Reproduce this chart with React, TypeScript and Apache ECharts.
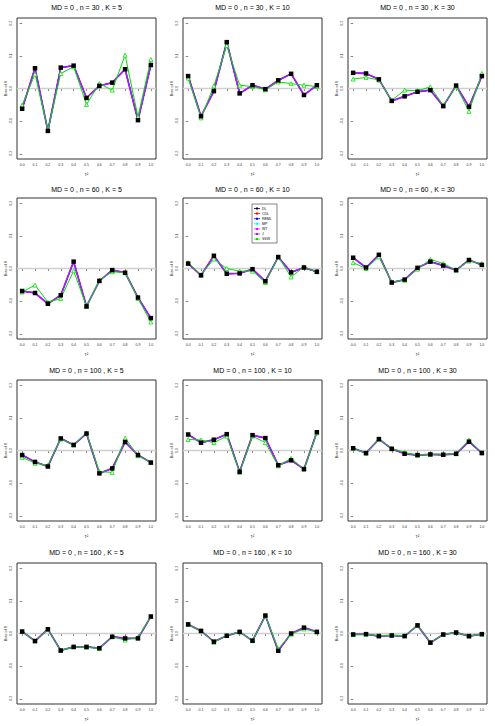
import React, { useEffect, useRef } from "react";
import * as echarts from "echarts";

const TAU = [0, 0.1, 0.2, 0.3, 0.4, 0.5, 0.6, 0.7, 0.8, 0.9, 1.0];
const Y_TICKS = [-0.2, -0.1, 0, 0.1, 0.2];
const METHODS = ["DL", "CDL", "REML", "MP", "WT", "J", "SSW"];
const COLORS = ["#000000", "#FF0000", "#0000FF", "#00FFFF", "#FF00FF", "#A020F0", "#00E000"];
const ZERO_LINE = [[-0.04, 0], [1.04, 0]];

// n = 30
const N30_K5 = [-0.062, 0.062, -0.13, 0.064, 0.07, -0.029, 0.008, 0.018, 0.059, -0.097, 0.072];
const N30_K5_SSW = [-0.051, 0.044, -0.128, 0.046, 0.067, -0.049, 0.015, -0.005, 0.102, -0.087, 0.089];
const N30_K10 = [0.038, -0.085, -0.008, 0.142, -0.015, 0.01, -0.002, 0.025, 0.045, -0.02, 0.01];
const N30_K10_SSW = [0.032, -0.09, 0.008, 0.132, 0.01, 0.006, -0.004, 0.02, 0.015, 0.01, 0.006];
const N30_K30 = [0.048, 0.046, 0.028, -0.038, -0.024, -0.01, -0.005, -0.054, 0.009, -0.056, 0.038];
const N30_K30_SSW = [0.029, 0.034, 0.026, -0.036, -0.005, -0.007, 0.005, -0.051, 0.007, -0.07, 0.046];
// n = 60
const N60_K5 = [-0.069, -0.075, -0.108, -0.082, 0.021, -0.116, -0.038, -0.005, -0.013, -0.089, -0.152];
const N60_K5_SSW = [-0.072, -0.051, -0.103, -0.092, -0.007, -0.116, -0.036, -0.01, -0.013, -0.092, -0.164];
const N60_K10 = [0.015, -0.021, 0.039, -0.016, -0.015, -0.002, -0.039, 0.035, -0.012, 0.003, -0.01];
const N60_K10_SSW = [0.018, -0.019, 0.029, 0.0, -0.008, -0.008, -0.043, 0.036, -0.026, 0.005, -0.01];
const N60_K30 = [0.033, 0.003, 0.042, -0.043, -0.034, 0.002, 0.021, 0.009, -0.005, 0.026, 0.011];
const N60_K30_SSW = [0.018, 0.0, 0.036, -0.041, -0.036, -0.002, 0.028, 0.015, -0.005, 0.023, 0.015];
// n = 100
const N100_K5 = [-0.014, -0.035, -0.049, 0.037, 0.017, 0.052, -0.07, -0.055, 0.026, -0.014, -0.037];
const N100_K5_SSW = [-0.021, -0.039, -0.045, 0.035, 0.017, 0.054, -0.065, -0.067, 0.038, -0.016, -0.037];
const N100_K10 = [0.049, 0.024, 0.033, 0.05, -0.065, 0.047, 0.038, -0.045, -0.03, -0.057, 0.056];
const N100_K10_SSW = [0.034, 0.032, 0.024, 0.044, -0.067, 0.044, 0.024, -0.047, -0.024, -0.057, 0.054];
const N100_K30 = [0.007, -0.008, 0.035, 0.005, -0.01, -0.014, -0.012, -0.013, -0.01, 0.027, -0.008];
const N100_K30_SSW = [0.007, -0.008, 0.035, 0.007, -0.006, -0.014, -0.011, -0.011, -0.01, 0.032, -0.006];
// n = 160
const N160_K5 = [0.006, -0.023, 0.013, -0.052, -0.041, -0.041, -0.045, -0.01, -0.015, -0.015, 0.052];
const N160_K5_SSW = [0.006, -0.023, 0.013, -0.052, -0.041, -0.042, -0.046, -0.01, -0.02, -0.012, 0.052];
const N160_K10 = [0.028, 0.008, -0.025, -0.007, 0.005, -0.022, 0.055, -0.053, 0.0, 0.018, 0.005];
const N160_K10_SSW = [0.028, 0.008, -0.027, -0.006, 0.005, -0.022, 0.055, -0.047, -0.002, 0.014, 0.005];
const N160_K30 = [-0.003, -0.002, -0.008, -0.006, -0.008, 0.025, -0.028, -0.003, 0.003, -0.008, -0.002];
const N160_K30_SSW = [-0.003, -0.002, -0.007, -0.006, -0.007, 0.025, -0.027, -0.003, 0.003, -0.008, -0.002];

const PANELS = [
  { n: 30, K: 5, base: N30_K5, ssw: N30_K5_SSW },
  { n: 30, K: 10, base: N30_K10, ssw: N30_K10_SSW },
  { n: 30, K: 30, base: N30_K30, ssw: N30_K30_SSW },
  { n: 60, K: 5, base: N60_K5, ssw: N60_K5_SSW },
  { n: 60, K: 10, base: N60_K10, ssw: N60_K10_SSW },
  { n: 60, K: 30, base: N60_K30, ssw: N60_K30_SSW },
  { n: 100, K: 5, base: N100_K5, ssw: N100_K5_SSW },
  { n: 100, K: 10, base: N100_K10, ssw: N100_K10_SSW },
  { n: 100, K: 30, base: N100_K30, ssw: N100_K30_SSW },
  { n: 160, K: 5, base: N160_K5, ssw: N160_K5_SSW },
  { n: 160, K: 10, base: N160_K10, ssw: N160_K10_SSW },
  { n: 160, K: 30, base: N160_K30, ssw: N160_K30_SSW },
];

const FONT = "Liberation Sans, Arial, sans-serif";
const COL_LEFT = [17, 183, 348];
const ROW_TOP = [18, 198, 380, 563];
const ROW_TITLE = [8, 190, 371, 553];
const GW = 139;
const GH = 141;

function pairs(vals: number[]) {
  return TAU.map((t, i) => [t, vals[i]]);
}

export default function App() {
  const ref = useRef<HTMLDivElement>(null);
  useEffect(() => {
    if (!ref.current) return;
    const chart = echarts.init(ref.current, null, { renderer: "svg" });
    const grid: any[] = [];
    const xAxis: any[] = [];
    const yAxis: any[] = [];
    const title: any[] = [];
    const series: any[] = [];
    PANELS.forEach((p, i) => {
      const r = Math.floor(i / 3);
      const c = i % 3;
      grid.push({
        left: COL_LEFT[c],
        top: ROW_TOP[r],
        width: GW,
        height: GH,
        show: true,
        borderColor: "#333",
        borderWidth: 1,
        backgroundColor: "#fff",
      });
      title.push({
        text: `MD = 0 , n = ${p.n} , K = ${p.K}`,
        left: COL_LEFT[c] + GW / 2,
        top: ROW_TITLE[r] - 4,
        textAlign: "center",
        padding: 0,
        textStyle: { fontFamily: FONT, fontSize: 7, fontWeight: "normal", color: "#000" },
      });
      xAxis.push({
        type: "value",
        gridIndex: i,
        min: -0.04,
        max: 1.04,
        axisLine: { show: false },
        splitLine: { show: false },
        axisTick: { show: true, length: 2.5, customValues: TAU, lineStyle: { color: "#333", width: 0.6 } },
        axisLabel: {
          customValues: TAU,
          fontSize: 3.5,
          margin: 4,
          color: "#333",
          fontFamily: FONT,
          formatter: (v: number) => v.toFixed(1),
        },
        name: "τ²",
        nameLocation: "middle",
        nameGap: 13,
        nameTextStyle: { fontSize: 4.5, color: "#333", fontFamily: FONT },
      });
      yAxis.push({
        type: "value",
        gridIndex: i,
        min: -0.216,
        max: 0.216,
        axisLine: { show: false },
        splitLine: { show: false },
        axisTick: { show: true, length: 2.5, customValues: Y_TICKS, lineStyle: { color: "#333", width: 0.6 } },
        axisLabel: {
          customValues: Y_TICKS,
          fontSize: 3.5,
          margin: 4,
          rotate: 90,
          color: "#333",
          fontFamily: FONT,
          formatter: (v: number) => v.toFixed(1),
        },
        name: "Bias of θ",
        nameLocation: "middle",
        nameGap: 10,
        nameRotate: 90,
        nameTextStyle: { fontSize: 4, color: "#333", fontFamily: FONT },
      });
      series.push({
        type: "line",
        name: "zero",
        xAxisIndex: i,
        yAxisIndex: i,
        data: ZERO_LINE,
        showSymbol: false,
        symbol: "none",
        lineStyle: { color: "#cfcfcf", width: 1.5 },
        silent: true,
        z: 1,
      });
      METHODS.forEach((m, k) => {
        const isSSW = m === "SSW";
        series.push({
          type: "line",
          name: m,
          xAxisIndex: i,
          yAxisIndex: i,
          data: pairs(isSSW ? p.ssw : p.base),
          showSymbol: isSSW,
          symbol: isSSW ? "triangle" : "none",
          symbolSize: 4,
          itemStyle: { color: isSSW ? "#fff" : COLORS[k], borderColor: COLORS[k], borderWidth: 0.8 },
          lineStyle: { color: COLORS[k], width: m === "J" ? 1.8 : 1 },
          silent: true,
        });
      });
      series.push({
        type: "line",
        name: "DL points",
        xAxisIndex: i,
        yAxisIndex: i,
        data: pairs(p.base),
        symbol: "rect",
        symbolSize: 4.5,
        itemStyle: { color: "#000" },
        lineStyle: { opacity: 0 },
        silent: true,
      });
    });

    // legend box in the n=60, K=10 panel
    const lx = 252;
    const ly = 204;
    const legendChildren: any[] = [
      { type: "rect", shape: { x: lx, y: ly, width: 25, height: 39 }, style: { fill: "#fff", stroke: "#333", lineWidth: 0.6 } },
    ];
    METHODS.forEach((m, k) => {
      const yy = ly + 4.5 + k * 5.1;
      legendChildren.push({
        type: "line",
        shape: { x1: lx + 2, y1: yy, x2: lx + 8, y2: yy },
        style: { stroke: COLORS[k], lineWidth: 0.8 },
      });
      legendChildren.push({
        type: "rect",
        shape: { x: lx + 4, y: yy - 1, width: 2, height: 2 },
        style: { fill: COLORS[k] },
      });
      legendChildren.push({
        type: "text",
        style: { x: lx + 10, y: yy, text: m, fontSize: 3.5, fontFamily: FONT, fill: "#000", verticalAlign: "middle" },
      });
    });

    chart.setOption({
      animation: false,
      backgroundColor: "#fff",
      title,
      grid,
      xAxis,
      yAxis,
      series,
      graphic: [{ type: "group", children: legendChildren, z: 100 }],
    });
    return () => chart.dispose();
  }, []);
  return <div ref={ref} style={{ position: "fixed", left: 0, top: 0, width: 495, height: 726 }} />;
}
